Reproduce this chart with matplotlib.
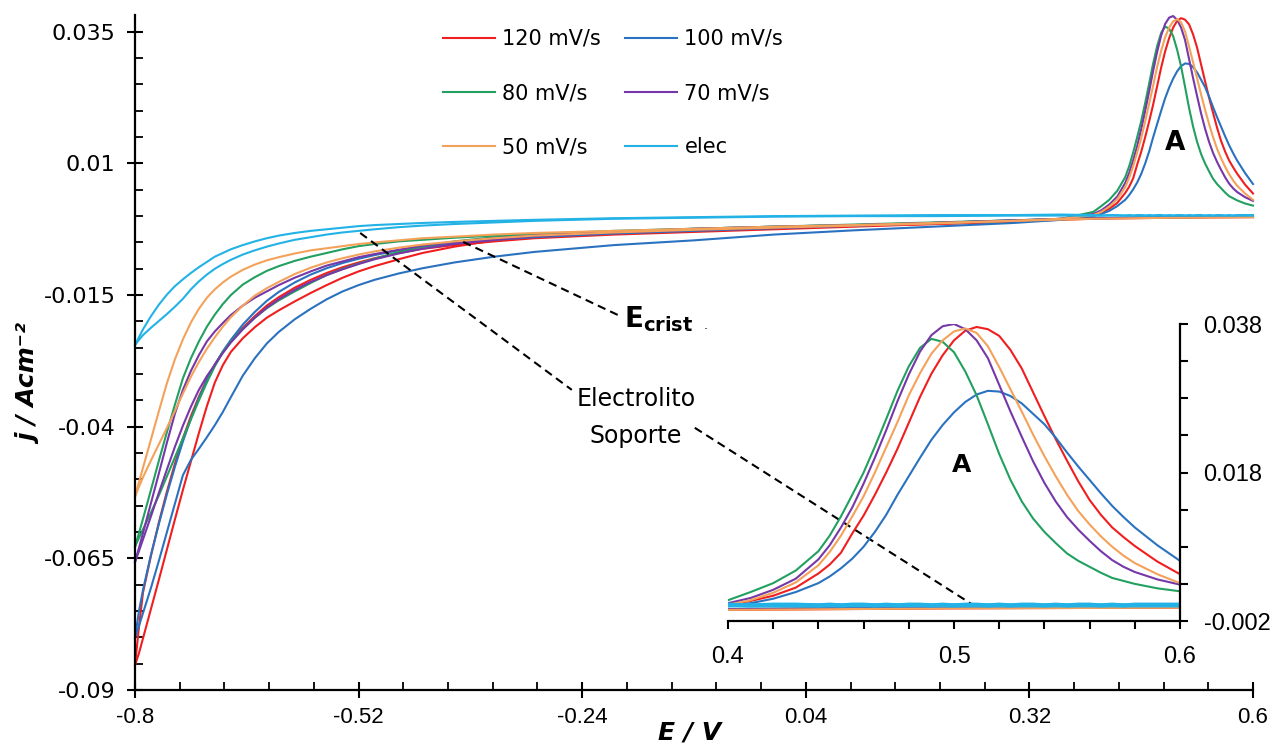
import numpy as np
import matplotlib
matplotlib.use('Agg')
import matplotlib.pyplot as plt
from matplotlib.ticker import FixedLocator, MultipleLocator

plt.rcParams['font.family'] = ['DejaVu Sans']

# potential grids (V): forward scan left part, forward scan peak part, backward scan
e_left = [-0.80, -0.795, -0.79, -0.78, -0.77, -0.76, -0.75, -0.74, -0.73, -0.72, -0.71, -0.70,
          -0.69, -0.68, -0.665, -0.65, -0.635, -0.62, -0.60, -0.58, -0.56, -0.54, -0.52, -0.50,
          -0.47, -0.44, -0.40, -0.35, -0.30, -0.20, -0.10, 0.00, 0.10, 0.20, 0.30, 0.36]
e_peak = [0.40, 0.41, 0.42, 0.43, 0.44, 0.445, 0.45, 0.455, 0.46, 0.465, 0.47, 0.475, 0.48,
          0.485, 0.49, 0.495, 0.50, 0.505, 0.51, 0.515, 0.52, 0.525, 0.53, 0.535, 0.54, 0.545,
          0.55, 0.555, 0.56, 0.565, 0.57, 0.575, 0.58, 0.59, 0.60]
e_back = [0.60, 0.50, 0.40, 0.30, 0.20, 0.10, 0.00, -0.10, -0.20, -0.30, -0.35, -0.40, -0.44,
          -0.47, -0.50, -0.52, -0.54, -0.56, -0.58, -0.60, -0.62, -0.635, -0.65, -0.665, -0.68,
          -0.69, -0.70, -0.71, -0.72, -0.73, -0.74, -0.75, -0.76, -0.77, -0.78, -0.79, -0.795, -0.80]

# current density j (A/cm2)
red_left = [-0.0853, -0.0830, -0.0802, -0.0746, -0.0690, -0.0633, -0.0576, -0.0520, -0.0466,
            -0.0412, -0.0361, -0.0316, -0.0283, -0.0258, -0.0232, -0.0211, -0.0193, -0.0179,
            -0.0162, -0.0146, -0.0131, -0.0117, -0.0105, -0.0095, -0.0082, -0.0070, -0.0058,
            -0.0046, -0.0039, -0.0032, -0.0026, -0.0022, -0.0018, -0.0015, -0.0011, -0.0005]
red_peak = [0.0002, 0.0007, 0.0014, 0.0025, 0.0044, 0.0056, 0.0072, 0.0098, 0.0122, 0.0150,
            0.0180, 0.0212, 0.0247, 0.0282, 0.0313, 0.0338, 0.0358, 0.0371, 0.0376, 0.0373,
            0.0364, 0.0345, 0.0320, 0.0288, 0.0256, 0.0225, 0.0196, 0.0168, 0.0143, 0.0123,
            0.0106, 0.0093, 0.0081, 0.0060, 0.0043]
red_back = [-0.0002, -0.0003, -0.0005, -0.0010, -0.0015, -0.0020, -0.0025, -0.0030, -0.0035,
            -0.0042, -0.0048, -0.0055, -0.0062, -0.0070, -0.0080, -0.0088, -0.0097, -0.0108,
            -0.0121, -0.0136, -0.0154, -0.0170, -0.0190, -0.0212, -0.0238, -0.0258, -0.0282,
            -0.0310, -0.0343, -0.0380, -0.0422, -0.0470, -0.0523, -0.0581, -0.0645, -0.0715,
            -0.0780, -0.0853]

blue_left = [-0.0801, -0.0778, -0.0754, -0.0706, -0.0654, -0.0600, -0.0546, -0.0492, -0.0463,
             -0.0442, -0.0420, -0.0397, -0.0372, -0.0344, -0.0303, -0.0270, -0.0242, -0.0220,
             -0.0196, -0.0176, -0.0158, -0.0143, -0.0131, -0.0121, -0.0109, -0.0099, -0.0088,
             -0.0077, -0.0068, -0.0055, -0.0046, -0.0035, -0.0027, -0.0020, -0.0013, -0.0007]
blue_peak = [0.0000, 0.0004, 0.0010, 0.0019, 0.0031, 0.0040, 0.0051, 0.0064, 0.0080, 0.0100,
             0.0123, 0.0150, 0.0175, 0.0200, 0.0224, 0.0244, 0.0261, 0.0275, 0.0285, 0.0290,
             0.0289, 0.0283, 0.0273, 0.0259, 0.0245, 0.0227, 0.0207, 0.0188, 0.0170, 0.0152,
             0.0135, 0.0120, 0.0106, 0.0082, 0.0061]
blue_back = [-0.0001, -0.0002, -0.0004, -0.0008, -0.0013, -0.0018, -0.0023, -0.0028, -0.0033,
             -0.0040, -0.0045, -0.0051, -0.0058, -0.0065, -0.0074, -0.0081, -0.0089, -0.0099,
             -0.0111, -0.0126, -0.0144, -0.0161, -0.0182, -0.0206, -0.0235, -0.0257, -0.0282,
             -0.0312, -0.0346, -0.0385, -0.0428, -0.0476, -0.0528, -0.0584, -0.0643, -0.0710,
             -0.0750, -0.0801]

green_left = [-0.0628, -0.0602, -0.0575, -0.0520, -0.0464, -0.0410, -0.0358, -0.0308, -0.0270,
              -0.0238, -0.0210, -0.0187, -0.0167, -0.0150, -0.0130, -0.0116, -0.0104, -0.0095,
              -0.0085, -0.0077, -0.0070, -0.0063, -0.0057, -0.0053, -0.0048, -0.0045, -0.0041,
              -0.0037, -0.0034, -0.0028, -0.0024, -0.0020, -0.0017, -0.0013, -0.0009, -0.0005]
green_peak = [0.0008, 0.0019, 0.0031, 0.0048, 0.0074, 0.0095, 0.0121, 0.0150, 0.0180, 0.0215,
              0.0252, 0.0290, 0.0323, 0.0348, 0.0360, 0.0356, 0.0342, 0.0316, 0.0284, 0.0245,
              0.0205, 0.0170, 0.0141, 0.0118, 0.0100, 0.0085, 0.0071, 0.0061, 0.0053, 0.0045,
              0.0038, 0.0034, 0.0030, 0.0024, 0.0020]
green_back = [-0.0001, -0.0002, -0.0004, -0.0008, -0.0012, -0.0016, -0.0020, -0.0024, -0.0029,
              -0.0035, -0.0040, -0.0048, -0.0058, -0.0068, -0.0081, -0.0090, -0.0100, -0.0112,
              -0.0127, -0.0143, -0.0160, -0.0175, -0.0193, -0.0214, -0.0238, -0.0258, -0.0285,
              -0.0316, -0.0350, -0.0386, -0.0422, -0.0458, -0.0494, -0.0530, -0.0563, -0.0595,
              -0.0611, -0.0628]

purple_left = [-0.0657, -0.0630, -0.0602, -0.0545, -0.0488, -0.0430, -0.0375, -0.0330, -0.0294,
               -0.0264, -0.0238, -0.0219, -0.0203, -0.0188, -0.0170, -0.0155, -0.0143, -0.0131,
               -0.0117, -0.0105, -0.0094, -0.0086, -0.0078, -0.0072, -0.0064, -0.0056, -0.0049,
               -0.0042, -0.0037, -0.0030, -0.0024, -0.0020, -0.0017, -0.0013, -0.0009, -0.0005]
purple_peak = [0.0004, 0.0011, 0.0022, 0.0037, 0.0063, 0.0082, 0.0106, 0.0133, 0.0165, 0.0200,
               0.0237, 0.0276, 0.0312, 0.0343, 0.0365, 0.0377, 0.0380, 0.0373, 0.0358, 0.0334,
               0.0298, 0.0262, 0.0228, 0.0195, 0.0166, 0.0141, 0.0120, 0.0103, 0.0088, 0.0074,
               0.0062, 0.0053, 0.0046, 0.0036, 0.0029]
purple_back = [-0.0001, -0.0002, -0.0004, -0.0008, -0.0013, -0.0018, -0.0022, -0.0026, -0.0031,
               -0.0038, -0.0045, -0.0053, -0.0062, -0.0071, -0.0082, -0.0091, -0.0101, -0.0112,
               -0.0125, -0.0140, -0.0158, -0.0174, -0.0193, -0.0215, -0.0240, -0.0260, -0.0282,
               -0.0304, -0.0330, -0.0362, -0.0398, -0.0438, -0.0481, -0.0525, -0.0570, -0.0614,
               -0.0636, -0.0657]

orange_left = [-0.0533, -0.0505, -0.0478, -0.0424, -0.0370, -0.0317, -0.0272, -0.0234, -0.0202,
               -0.0176, -0.0155, -0.0139, -0.0126, -0.0115, -0.0102, -0.0092, -0.0084, -0.0078,
               -0.0071, -0.0065, -0.0061, -0.0057, -0.0053, -0.0050, -0.0046, -0.0042, -0.0039,
               -0.0035, -0.0032, -0.0028, -0.0024, -0.0020, -0.0017, -0.0013, -0.0009, -0.0005]
orange_peak = [0.0002, 0.0008, 0.0018, 0.0032, 0.0055, 0.0073, 0.0095, 0.0121, 0.0148, 0.0180,
               0.0214, 0.0248, 0.0284, 0.0314, 0.0340, 0.0358, 0.0370, 0.0374, 0.0368, 0.0350,
               0.0322, 0.0292, 0.0262, 0.0231, 0.0202, 0.0175, 0.0150, 0.0128, 0.0110, 0.0094,
               0.0080, 0.0068, 0.0058, 0.0043, 0.0031]
orange_back = [-0.0002, -0.0003, -0.0005, -0.0009, -0.0014, -0.0018, -0.0022, -0.0026, -0.0031,
               -0.0037, -0.0042, -0.0048, -0.0054, -0.0060, -0.0067, -0.0073, -0.0080, -0.0088,
               -0.0098, -0.0110, -0.0125, -0.0137, -0.0151, -0.0170, -0.0192, -0.0210, -0.0230,
               -0.0252, -0.0277, -0.0305, -0.0337, -0.0370, -0.0402, -0.0433, -0.0464, -0.0496,
               -0.0514, -0.0533]

elec_left = [-0.0245, -0.0230, -0.0215, -0.0190, -0.0168, -0.0149, -0.0133, -0.0120, -0.0108,
             -0.0097, -0.0087, -0.0077, -0.0070, -0.0063, -0.0055, -0.0048, -0.0042, -0.0037,
             -0.0032, -0.0028, -0.0025, -0.0022, -0.0019, -0.0017, -0.0015, -0.0013, -0.0011,
             -0.0009, -0.0007, -0.0004, -0.0002, 0.0000, 0.0001, 0.0002, 0.0002, 0.0003]
elec_peak = [0.0002, 0.0001, 0.0002, 0.0002, 0.0001, 0.0002, 0.0001, 0.0002, 0.0002, 0.0001,
             0.0002, 0.0001, 0.0002, 0.0002, 0.0001, 0.0002, 0.0001, 0.0002, 0.0002, 0.0001,
             0.0002, 0.0001, 0.0002, 0.0002, 0.0001, 0.0002, 0.0001, 0.0002, 0.0002, 0.0001,
             0.0002, 0.0001, 0.0002, 0.0002, 0.0002]
elec_back = [0.0001, 0.0001, 0.0001, 0.0001, 0.0000, 0.0000, -0.0001, -0.0003, -0.0005, -0.0009,
             -0.0012, -0.0015, -0.0018, -0.0021, -0.0025, -0.0028, -0.0031, -0.0035, -0.0040,
             -0.0045, -0.0052, -0.0058, -0.0065, -0.0073, -0.0083, -0.0091, -0.0100, -0.0111,
             -0.0124, -0.0139, -0.0157, -0.0172, -0.0186, -0.0199, -0.0212, -0.0226, -0.0235,
             -0.0245]

labels = ['120 mV/s', '100 mV/s', '80 mV/s', '70 mV/s', '50 mV/s', 'elec']
colors = ['#f01e1e', '#2a72c0', '#22a060', '#7638a8', '#f4a25a', '#22b2e6']
series = [(red_left, red_peak, red_back), (blue_left, blue_peak, blue_back),
          (green_left, green_peak, green_back), (purple_left, purple_peak, purple_back),
          (orange_left, orange_peak, orange_back), (elec_left, elec_peak, elec_back)]

xt = [-0.8, -0.52, -0.24, 0.04, 0.32, 0.6]
xt_lab = ['-0.8', '-0.52', '-0.24', '0.04', '0.32', '0.6']
yt = [0.035, 0.01, -0.015, -0.04, -0.065, -0.09]
yt_lab = ['0.035', '0.01', '-0.015', '-0.04', '-0.065', '-0.09']
ixt = [0.4, 0.5, 0.6]
ixt_lab = ['0.4', '0.5', '0.6']
iyt = [-0.002, 0.018, 0.038]
iyt_lab = ['-0.002', '0.018', '0.038']

fig = plt.figure(figsize=(12.78, 7.46), dpi=100)
ax = fig.add_axes([0.10563, 0.07507, 0.87480, 0.90483])
ins = fig.add_axes([0.56964, 0.16756, 0.35368, 0.39812], facecolor='none')

handles = {}
for lab, col, (lft, pk, bk) in zip(labels, colors, series):
    lw_in = 3.0 if lab == 'elec' else 1.5
    h, = ax.plot(e_left + e_peak, lft + pk, color=col, lw=1.5, clip_on=False)
    ax.plot(e_back, bk, color=col, lw=1.5, clip_on=False)
    ins.plot(e_left + e_peak, lft + pk, color=col, lw=lw_in)
    ins.plot(e_back, bk, color=col, lw=lw_in)
    handles[lab] = h

# main axes
ax.set_xlim(-0.8, 0.6)
ax.set_ylim(-0.09, 0.0382)
ax.set_xticks(xt, xt_lab)
ax.set_yticks(yt, yt_lab)
ax.xaxis.set_minor_locator(FixedLocator(np.linspace(-0.8, 0.6, 26)))
ax.yaxis.set_minor_locator(MultipleLocator(0.005))
for s in ['top', 'right']:
    ax.spines[s].set_visible(False)
for s in ['left', 'bottom']:
    ax.spines[s].set_linewidth(1.6)
ax.tick_params(which='major', direction='inout', length=12, width=1.5)
ax.tick_params(which='minor', direction='in', length=6, width=1.3)
ax.tick_params(axis='y', which='major', labelsize=16, pad=8)
ax.tick_params(axis='x', which='major', labelsize=16, pad=6, labelfontfamily='Liberation Sans')

fig.text(30 / 1278, 1 - 385 / 746, 'j / Acm⁻²', rotation=90, ha='center', va='center',
         fontsize=18, fontweight='bold', fontstyle='italic')
fig.text(690 / 1278, 1 - 733 / 746, 'E / V', ha='center', va='center',
         fontsize=18, fontweight='bold', fontstyle='italic')

order = ['120 mV/s', '80 mV/s', '50 mV/s', '100 mV/s', '70 mV/s', 'elec']
fig.legend([handles[k] for k in order], order, loc='upper left',
           bbox_to_anchor=(443 / 1278, 1 - 29 / 746), ncol=2, frameon=False,
           fontsize=15, handlelength=2.5, handletextpad=0.35, columnspacing=1.15,
           labelspacing=1.64, borderpad=0, borderaxespad=0)

# annotations
ax.plot([-0.518, -0.253], [-0.0032, -0.0330], color='black', lw=1.5, dashes=(4, 2.5))
ax.plot([-0.099, 0.252], [-0.0402, -0.0741], color='black', lw=1.5, dashes=(4, 2.5))
ax.plot([-0.389, -0.195], [-0.0049, -0.0188], color='black', lw=1.5, dashes=(4, 2.5))
ax.text(-0.173, -0.0382, 'Electrolito\nSoporte', ha='center', va='center',
        fontsize=17, linespacing=1.7)
ax.text(-0.188, -0.0211, r'$\mathbf{E_{crist}}$', ha='left', va='baseline', fontsize=20)
ax.text(-0.086, -0.0214, '.', ha='center', va='baseline', fontsize=9)
ax.text(0.502, 0.0139, 'A', ha='center', va='center', fontsize=19, fontweight='bold')

# inset
ins.set_xlim(0.4, 0.6)
ins.set_ylim(-0.002, 0.038)
ins.spines['left'].set_visible(False)
ins.spines['top'].set_visible(False)
ins.spines['right'].set_linewidth(1.6)
ins.spines['bottom'].set_linewidth(1.6)
ins.yaxis.tick_right()
ins.set_xticks(ixt, ixt_lab)
ins.set_yticks(iyt, iyt_lab)
ins.xaxis.set_minor_locator(MultipleLocator(0.02))
ins.yaxis.set_minor_locator(FixedLocator(np.linspace(-0.002, 0.038, 9)))
ins.tick_params(which='both', direction='out', length=6, width=1.5,
                labelsize=17, labelfontfamily='Liberation Sans')
ins.tick_params(axis='x', pad=12)
ins.tick_params(axis='y', pad=11)
ins.text(0.5035, 0.019, 'A', ha='center', va='center', fontsize=18, fontweight='bold')

fig.savefig('out.png', dpi=100)
